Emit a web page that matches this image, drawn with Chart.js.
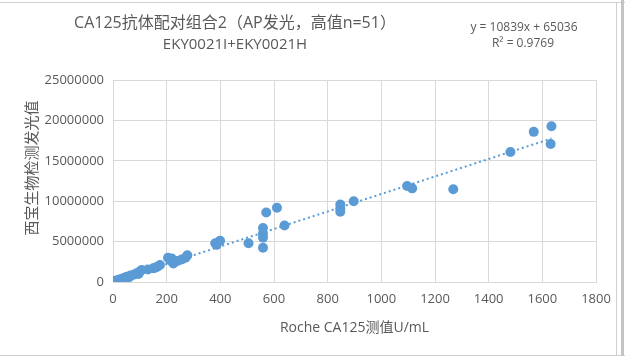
<!DOCTYPE html>
<html>
<head>
<meta charset="utf-8">
<script src="https://cdn.jsdelivr.net/npm/chart.js@4/dist/chart.umd.min.js"></script>
<style>
  html, body { margin: 0; padding: 0; background: #ffffff; }
  #wrap { position: relative; width: 625px; height: 356px; }
</style>
</head>
<body>
<div id="wrap"><canvas id="c" width="625" height="356"></canvas></div>
<script>
// ---- data ----
const rocheValues = [1568,1634,1631,1481,1268,1096,1115,897,847,847,847,611,571,639,559,559,559,559,505,381,399,386,277,270,256,219,213,225,205,175,165,157,150,107,100,88,76,65,51,45,38,30,20,12,5,1,240,95,60,130,25];
const xibaoValues = [18600000,19300000,17100000,16100000,11500000,11900000,11600000,10000000,9600000,9100000,8700000,9200000,8600000,7000000,6700000,6000000,5500000,4250000,4800000,4800000,5100000,4600000,3300000,3000000,2800000,2900000,2700000,2300000,3000000,2100000,1900000,1770000,1700000,1490000,1300000,1080000,900000,800000,660000,500000,460000,350000,250000,200000,120000,80000,2600000,1000000,600000,1550000,300000];
const trendX = [0, 1634];
const trendY = [65036, 17777000];
const titleLine1 = 'CA125抗体配对组合2（AP发光，高值n=51）';
const titleLine2 = 'EKY0021I+EKY0021H';
const equationLines = ['y = 10839x + 65036', 'R² = 0.9769'];
const xAxisTitle = 'Roche CA125测值U/mL';
const yAxisTitle = '西宝生物检测发光值';
const xMin = 0, xMax = 1800, xStep = 200;
const yMin = 0, yMax = 25000000, yStep = 5000000;

const FONT = "'Open Sans', 'Noto Sans CJK SC', sans-serif";
const TXT = '#595959';
const BLUE = '#5B9BD5';
const GRID = '#d9d9d9';

const points = rocheValues.map((v, i) => ({ x: v, y: xibaoValues[i] }));
const trend = trendX.map((v, i) => ({ x: v, y: trendY[i] }));

const decor = {
  id: 'decor',
  afterLayout(chart) {
    // center the title / subtitle blocks over the left part, as in the reference
    chart.boxes.forEach(b => {
      if (b.options && b.options.text !== undefined && b.position === 'top') {
        b.left = 0; b.right = 470; b.width = 470;
      }
    });
  },
  beforeDraw(chart) {
    const ctx = chart.ctx;
    ctx.save();
    ctx.fillStyle = '#ffffff';
    ctx.fillRect(0, 0, chart.width, chart.height);
    ctx.strokeStyle = '#cfcfcf';
    ctx.lineWidth = 1;
    ctx.beginPath();
    ctx.moveTo(0, 2.5); ctx.lineTo(625, 2.5);
    ctx.moveTo(616.5, 2.5); ctx.lineTo(616.5, 355.5);
    ctx.moveTo(0, 355.5); ctx.lineTo(625, 355.5);
    ctx.stroke();
    ctx.fillStyle = '#c4c4c4';
    ctx.fillRect(621, 0, 3, 356);
    ctx.restore();
  },
  afterDraw(chart) {
    const ctx = chart.ctx;
    ctx.save();
    ctx.fillStyle = TXT;
    ctx.textAlign = 'center';
    ctx.textBaseline = 'middle';
    ctx.font = '12px ' + FONT;
    ctx.fillText(equationLines[0], 524, 28);
    ctx.fillText(equationLines[1], 523, 44);
    // y axis title
    ctx.translate(33, 168);
    ctx.rotate(-Math.PI / 2);
    ctx.font = '15px ' + FONT;
    ctx.fillText(yAxisTitle, 0, 0);
    ctx.restore();
  }
};

new Chart(document.getElementById('c'), {
  type: 'scatter',
  data: {
    datasets: [
      {
        label: 'data',
        data: points,
        backgroundColor: BLUE,
        borderColor: BLUE,
        pointRadius: 5,
        pointBorderWidth: 0,
        order: 1
      },
      {
        type: 'line',
        label: 'trend',
        data: trend,
        borderColor: BLUE,
        borderWidth: 2,
        borderDash: [2, 3],
        pointRadius: 0,
        fill: false,
        order: 2
      }
    ]
  },
  options: {
    responsive: false,
    animation: false,
    layout: { padding: { left: 0, right: 29, top: 0, bottom: 0 } },
    plugins: {
      legend: { display: false },
      tooltip: { enabled: false },
      title: {
        display: true,
        text: titleLine1,
        color: TXT,
        font: { family: FONT, size: 16, weight: 'normal', lineHeight: 1.2 },
        padding: { top: 14, bottom: 2 }
      },
      subtitle: {
        display: true,
        text: titleLine2,
        color: TXT,
        font: { family: FONT, size: 15, weight: 'normal', lineHeight: 1.2 },
        padding: { top: 1, bottom: 26 }
      }
    },
    scales: {
      x: {
        type: 'linear',
        min: xMin, max: xMax,
        ticks: {
          stepSize: xStep, color: TXT, font: { family: FONT, size: 13 }, padding: 9, maxRotation: 0,
          callback: v => String(v)
        },
        grid: { color: GRID, drawTicks: false },
        border: { color: GRID },
        title: {
          display: true, text: xAxisTitle, color: TXT,
          font: { family: FONT, size: 14 }, padding: { top: 0, bottom: 20 }
        },
        afterFit(s) { s.height = 74; }
      },
      y: {
        type: 'linear',
        min: yMin, max: yMax,
        ticks: {
          stepSize: yStep, color: TXT, font: { family: FONT, size: 13 }, padding: 9,
          callback: v => String(v)
        },
        grid: { color: GRID, drawTicks: false },
        border: { color: GRID },
        afterFit(s) { s.width = 113; }
      }
    }
  },
  plugins: [decor]
});
</script>
</body>
</html>
